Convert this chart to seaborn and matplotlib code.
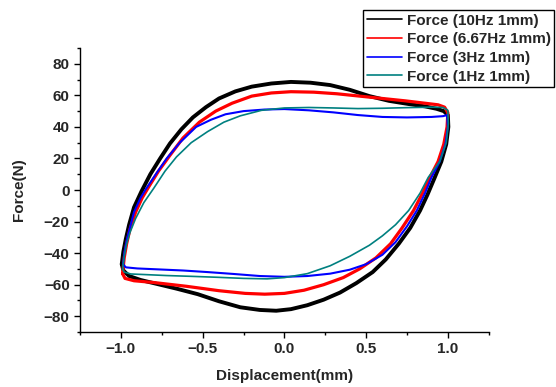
import seaborn as sns
from matplotlib import pyplot as plt
from matplotlib.ticker import MultipleLocator
import pandas as pd

# hysteresis loops: upper branch left->right, lower branch right->left
labels = ["Force (10Hz 1mm)", "Force (6.67Hz 1mm)", "Force (3Hz 1mm)", "Force (1Hz 1mm)"]
colors = ["#000000", "#ff0000", "#0000ff", "#008080"]
widths = [2.8, 2.3, 1.5, 1.2]

disp_10hz_up = [-0.995, -0.985, -0.97, -0.95, -0.92, -0.875, -0.82, -0.76, -0.70, -0.63, -0.56, -0.48, -0.40,
                -0.30, -0.20, -0.08, 0.04, 0.16, 0.28, 0.40, 0.52, 0.64, 0.76, 0.86, 0.93, 0.975, 1.0]
force_10hz_up = [-47, -39, -31, -22, -11, -1, 10, 20, 29.5, 38.5, 46, 52.5, 58,
                 62.5, 65.5, 67.5, 68.5, 68, 66.5, 63.5, 59.5, 56.5, 54.5, 53, 51.5, 50, 47.5]
disp_10hz_low = [1.0, 1.003, 0.99, 0.96, 0.92, 0.875, 0.83, 0.77, 0.70, 0.62, 0.54, 0.44, 0.34, 0.24, 0.14,
                 0.04, -0.05, -0.15, -0.27, -0.40, -0.53, -0.66, -0.78, -0.88, -0.95, -0.985, -0.995]
force_10hz_low = [47.5, 40, 29, 18, 8, -3, -13, -24, -34, -44, -52, -59, -65, -69.5, -73,
                  -75.5, -76.5, -76, -74.3, -70.5, -66, -62.5, -59.5, -57, -54.5, -51, -47]

disp_667hz_up = [-0.99, -0.98, -0.965, -0.945, -0.91, -0.87, -0.83, -0.77, -0.70, -0.62, -0.52, -0.42, -0.32,
                 -0.20, -0.08, 0.04, 0.18, 0.32, 0.46, 0.60, 0.74, 0.86, 0.94, 0.98, 1.0]
force_667hz_up = [-53, -43, -34, -25, -14, -5, 2, 12, 22, 33, 43, 50, 55,
                  59.5, 61.5, 62.3, 62, 61, 59.5, 58, 56.5, 55, 54, 52.5, 49]
disp_667hz_low = [1.0, 0.995, 0.975, 0.94, 0.89, 0.845, 0.79, 0.72, 0.65, 0.56, 0.46, 0.36, 0.24, 0.12,
                  0.0, -0.12, -0.24, -0.40, -0.60, -0.80, -0.92, -0.975, -0.99]
force_667hz_low = [49, 40, 29, 18, 8, -2, -13, -24, -34, -43, -50, -55.5, -60, -63.5,
                   -65.5, -66, -65.5, -63.8, -61, -58.6, -57.5, -56, -53]

disp_3hz_up = [-0.987, -0.978, -0.963, -0.945, -0.92, -0.88, -0.845, -0.78, -0.72, -0.64, -0.54, -0.45, -0.36,
               -0.25, -0.12, 0.0, 0.15, 0.30, 0.45, 0.60, 0.75, 0.90, 0.97, 0.995]
force_3hz_up = [-47, -39, -31, -24, -14, -5, 1, 11, 20, 30, 40, 44.5, 48,
                50, 51, 51.3, 50.5, 49.2, 47.5, 46.3, 46, 46.3, 46.8, 47.5]
disp_3hz_low = [0.995, 1.0, 0.985, 0.95, 0.90, 0.86, 0.81, 0.75, 0.68, 0.60, 0.50, 0.40, 0.28, 0.14,
                0.0, -0.15, -0.31, -0.47, -0.62, -0.77, -0.90, -0.97, -0.987]
force_3hz_low = [47.5, 40, 29, 18, 8, -2, -13, -23, -33, -41, -47, -50.5, -53, -54.5,
                 -55, -54.5, -53.2, -52, -51, -50.3, -49.7, -49, -47]

disp_1hz_up = [-0.99, -0.98, -0.965, -0.945, -0.91, -0.86, -0.80, -0.73, -0.66, -0.57, -0.47, -0.37, -0.27,
               -0.14, 0.0, 0.15, 0.30, 0.45, 0.60, 0.75, 0.90, 0.97, 1.0]
force_1hz_up = [-50, -42, -34, -27, -18, -8, 1, 12, 21, 30, 37, 43, 47,
                50.5, 52, 52.3, 52, 51.6, 51.8, 52.2, 52.5, 52.3, 50.5]
disp_1hz_low = [1.0, 1.003, 0.99, 0.95, 0.88, 0.83, 0.76, 0.68, 0.60, 0.52, 0.40, 0.28, 0.14, 0.0,
                -0.106, -0.25, -0.41, -0.57, -0.72, -0.85, -0.94, -0.98, -0.99]
force_1hz_low = [50.5, 42, 30, 18, 8, -2, -13, -22, -29, -35, -42, -48, -53, -55.5,
                 -56.3, -56, -55.3, -54.7, -54.2, -53.6, -53.2, -52, -50]

loops = [
    (disp_10hz_up + disp_10hz_low, force_10hz_up + force_10hz_low),
    (disp_667hz_up + disp_667hz_low, force_667hz_up + force_667hz_low),
    (disp_3hz_up + disp_3hz_low, force_3hz_up + force_3hz_low),
    (disp_1hz_up + disp_1hz_low, force_1hz_up + force_1hz_low),
]

sns.set_style("ticks")
plt.rcParams["font.family"] = ["Liberation Sans", "DejaVu Sans"]
plt.rcParams["font.weight"] = "bold"

fig, ax = plt.subplots(figsize=(5.56, 3.87), dpi=100)
fig.subplots_adjust(left=0.144, right=0.879, bottom=0.142, top=0.876)

for (d, f), lab, col, lw in zip(loops, labels, colors, widths):
    df = pd.DataFrame({"Displacement": d, "Force": f})
    sns.lineplot(data=df, x="Displacement", y="Force", sort=False, estimator=None,
                 color=col, linewidth=lw, label=lab, ax=ax)

ax.set_xlim(-1.25, 1.25)
ax.set_ylim(-90, 90)
ax.xaxis.set_major_locator(MultipleLocator(0.5))
ax.xaxis.set_minor_locator(MultipleLocator(0.25))
ax.yaxis.set_major_locator(MultipleLocator(20))
ax.yaxis.set_minor_locator(MultipleLocator(10))
ax.tick_params(which="major", direction="out", length=4, width=1, labelsize=11, color="black")
ax.tick_params(which="minor", direction="out", length=2.5, width=1, color="black")
for t in ax.get_xticklabels() + ax.get_yticklabels():
    t.set_fontweight("bold")
sns.despine(ax=ax)
for s in ["left", "bottom"]:
    ax.spines[s].set_color("black")
    ax.spines[s].set_linewidth(1)

ax.set_xlabel("Displacement(mm)", fontsize=11, fontweight="bold", labelpad=9)
ax.set_ylabel("Force(N)", fontsize=11, fontweight="bold", labelpad=13)

ax.get_legend().remove()
handles, labs = ax.get_legend_handles_labels()
leg = fig.legend(handles, labs, loc="upper left", bbox_to_anchor=(363 / 556, 1 - 10 / 387),
                 bbox_transform=fig.transFigure, borderaxespad=0, fancybox=False,
                 edgecolor="black", framealpha=1, fontsize=11, handlelength=2.3,
                 labelspacing=0.3, borderpad=0.25, handletextpad=0.3)
leg.get_frame().set_linewidth(1)
for line in leg.get_lines():
    line.set_linewidth(1.2)
for t in leg.get_texts():
    t.set_fontweight("bold")

plt.savefig("out.png", dpi=100)
